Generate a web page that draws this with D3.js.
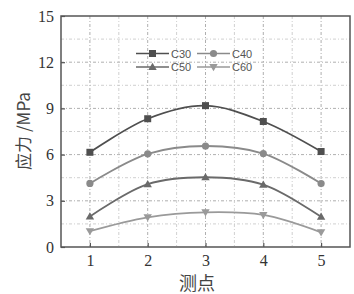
<!DOCTYPE html>
<html>
<head>
<meta charset="utf-8">
<script src="https://cdn.jsdelivr.net/npm/d3@7"></script>
<style>
  html, body { margin: 0; padding: 0; background: #fff; }
  svg { display: block; }
</style>
</head>
<body>
<div id="chart"></div>
<script>
(function () {
  'use strict';

  var points = [1, 2, 3, 4, 5];
  var c30 = [6.15, 8.33, 9.18, 8.15, 6.2];
  var c40 = [4.13, 6.05, 6.56, 6.07, 4.12];
  var c50 = [1.98, 4.08, 4.53, 4.05, 1.96];
  var c60 = [1.03, 1.93, 2.25, 2.08, 0.95];
  var seriesNames = ['C30', 'C40', 'C50', 'C60'];
  var yTicks = [0, 3, 6, 9, 12, 15];

  var width = 354, height = 294;
  var margin = { top: 16, right: 4, bottom: 47, left: 61 };
  var iw = width - margin.left - margin.right;
  var ih = height - margin.top - margin.bottom;

  var x = d3.scaleLinear().domain([0.5, 5.5]).range([0, iw]);
  var y = d3.scaleLinear().domain([0, 15]).range([ih, 0]);

  var svg = d3.select('#chart').append('svg').attr('width', width).attr('height', height);
  var g = svg.append('g').attr('transform', 'translate(' + margin.left + ',' + margin.top + ')');

  // grid (dash-dot grey)
  d3.range(1, 10).forEach(function (i) {
    var v = i * 1.5;
    g.append('line').attr('x1', 0).attr('x2', iw).attr('y1', y(v)).attr('y2', y(v))
      .attr('stroke', i % 2 === 0 ? '#9a9a9a' : '#c4c4c4').attr('stroke-width', 0.8).attr('stroke-dasharray', '3,2,1,2');
  });
  d3.range(1, 10).forEach(function (i) {
    var v = 0.5 + i * 0.5;
    g.append('line').attr('x1', x(v)).attr('x2', x(v)).attr('y1', 0).attr('y2', ih)
      .attr('stroke', i % 2 === 1 ? '#9a9a9a' : '#c4c4c4').attr('stroke-width', 0.8).attr('stroke-dasharray', '3,2,1,2');
  });

  var data = [
    { name: seriesNames[0], vals: c30, color: '#4f4f4f', marker: 'square' },
    { name: seriesNames[1], vals: c40, color: '#8a8a8a', marker: 'circle' },
    { name: seriesNames[2], vals: c50, color: '#6a6a6a', marker: 'triangle' },
    { name: seriesNames[3], vals: c60, color: '#9a9a9a', marker: 'down' }
  ];

  function drawMarker(sel, type, cx, cy, color) {
    if (type === 'square') {
      sel.append('rect').attr('x', cx - 3.5).attr('y', cy - 3.5).attr('width', 7).attr('height', 7).attr('fill', color);
    } else if (type === 'circle') {
      sel.append('circle').attr('cx', cx).attr('cy', cy).attr('r', 3.6).attr('fill', color);
    } else if (type === 'triangle') {
      sel.append('path').attr('d', 'M' + cx + ',' + (cy - 4.2) + 'L' + (cx + 4.2) + ',' + (cy + 3) + 'L' + (cx - 4.2) + ',' + (cy + 3) + 'Z').attr('fill', color);
    } else {
      sel.append('path').attr('d', 'M' + cx + ',' + (cy + 4.2) + 'L' + (cx + 4.2) + ',' + (cy - 3) + 'L' + (cx - 4.2) + ',' + (cy - 3) + 'Z').attr('fill', color);
    }
  }

  var line = d3.line().x(function (d) { return x(d[0]); }).y(function (d) { return y(d[1]); }).curve(d3.curveCatmullRom.alpha(0.5));

  data.forEach(function (s) {
    var pts = points.map(function (p, i) { return [p, s.vals[i]]; });
    g.append('path').datum(pts).attr('d', line).attr('fill', 'none').attr('stroke', s.color).attr('stroke-width', 1.8);
    pts.forEach(function (p) { drawMarker(g, s.marker, x(p[0]), y(p[1]), s.color); });
  });

  // frame
  g.append('rect').attr('x', 0).attr('y', 0).attr('width', iw).attr('height', ih)
    .attr('fill', 'none').attr('stroke', '#555').attr('stroke-width', 1.5);

  // axes
  var xAxis = g.append('g').attr('transform', 'translate(0,' + ih + ')')
    .call(d3.axisBottom(x).tickValues(points).tickSize(-4).tickPadding(8).tickFormat(d3.format('d')));
  var yAxis = g.append('g')
    .call(d3.axisLeft(y).tickValues(yTicks).tickSize(-4).tickPadding(7).tickFormat(d3.format('d')));
  [xAxis, yAxis].forEach(function (a) {
    a.select('.domain').remove();
    a.selectAll('.tick line').attr('stroke', '#555').attr('stroke-width', 1.2);
    a.selectAll('text').attr('fill', '#333').attr('font-family', '"Liberation Serif", "DejaVu Serif", serif')
      .attr('font-size', '16px');
  });

  // legend
  var lg = g.append('g');
  var legendPos = [[75, 37.5], [136, 37.5], [75, 51], [136, 51]];
  data.forEach(function (s, i) {
    var lx = legendPos[i][0], ly = legendPos[i][1];
    lg.append('line').attr('x1', lx).attr('x2', lx + 33).attr('y1', ly).attr('y2', ly)
      .attr('stroke', s.color).attr('stroke-width', 1.6);
    drawMarker(lg, s.marker, lx + 16.5, ly, s.color);
    lg.append('text').attr('x', lx + 35).attr('y', ly + 4).attr('fill', '#555')
      .attr('font-family', '"Liberation Sans", "DejaVu Sans", sans-serif').attr('font-size', '11px').text(s.name);
  });

  // axis titles
  svg.append('text').attr('x', 197).attr('y', 290).attr('text-anchor', 'middle')
    .attr('fill', '#444').attr('font-family', '"Noto Sans CJK SC", sans-serif').attr('font-size', '18px').text('测点');
  svg.append('text').attr('transform', 'translate(30,131) rotate(-90)').attr('text-anchor', 'middle')
    .attr('fill', '#444').attr('font-family', '"Noto Sans CJK SC", sans-serif').attr('font-size', '17px').text('应力 /MPa');
})();
</script>
</body>
</html>
